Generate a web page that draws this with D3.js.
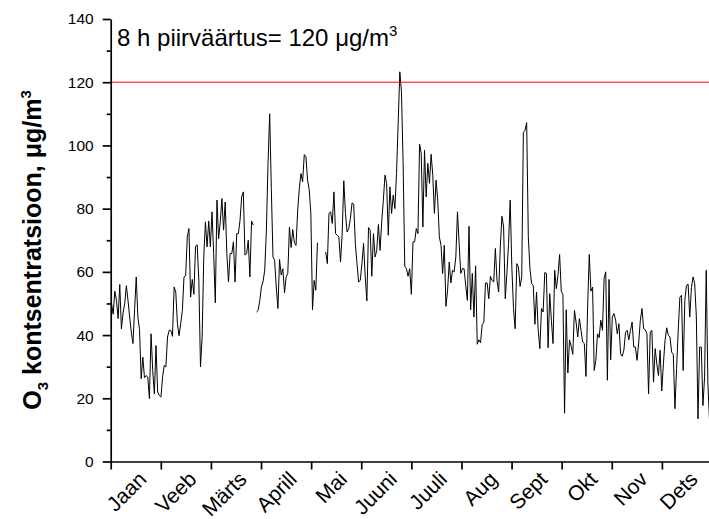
<!DOCTYPE html>
<html>
<head>
<meta charset="utf-8">
<script src="https://cdn.jsdelivr.net/npm/d3@7"></script>
<style>
  html, body { margin: 0; padding: 0; background: #fff; }
  svg { display: block; }
  text { font-family: Arial, "Liberation Sans", sans-serif; }
</style>
</head>
<body>
<svg id="chart" width="709" height="519"></svg>
<script>
// ---- data ----
const months = ["Jaan", "Veeb", "Märts", "Aprill", "Mai", "Juuni", "Juuli", "Aug", "Sept", "Okt", "Nov", "Dets"];
const yTicks = [0, 20, 40, 60, 80, 100, 120, 140];
const yMinorTicks = [10, 30, 50, 70, 90, 110, 130];
const limitValue = 120;
const limitText = "8 h piirväärtus= 120 ";

// daily 8 h O3 values (µg/m3), Jan – late Mar
const o3JanMar = [50, 46.6, 53.9, 51, 45.2, 56, 42, 47, 49.9, 55.6, 51, 45.7, 41, 37.3, 48, 58.4, 45.7, 41.7, 26.2, 33,
  26.5, 27.2, 26.7, 19.9, 40.4, 28.8, 21.4, 36.7, 22, 20.9, 20.4, 26.7, 30.4, 29.9, 39.4, 41.5, 41.5, 39.6, 55.2, 53.6,
  43.6, 39.8, 43.6, 47.8, 58.4, 58.8, 71.1, 73.7, 52, 57.6, 52.9, 68.1, 68.6, 57.3, 29.9, 39.4, 64.7, 75.8, 67.9, 76.1,
  67.9, 79, 65.8, 50.2, 82.7, 70.5, 75.8, 83.2, 73.2, 82.1, 65.8, 56.8, 65.8, 65.8, 69.5, 56.8, 72.1, 72.1, 76.3, 83.7,
  85.3, 65.3, 65.8, 70, 58.4, 76.1, 74.8];
const gap1 = [null];
// late Mar – early May
const o3AprMay = [47.3, 47.8, 51, 55.2, 57, 60.5, 73.2, 94.3, 110, 86.4, 64.7, 63.7, 55.2, 48.4, 63.9, 59, 61, 53.4, 58.4, 59.5,
  74.2, 67.7, 73.4, 69.2, 68.4, 79.5, 86.4, 91.1, 88.5, 97.1, 96.4, 89, 86, 78.5, 48, 57.3, 54.2, 69.2];
const gap2 = [null, null, null, null];
// mid May – end of year
const o3MayDec = [66.3, 62.6, 78.5, 79, 75.3, 85.3, 72.1, 71.6, 71.1, 63.1, 72.1, 88.8, 78.5, 72.6, 73.7, 76.9, 81.8, 81.4, 69, 62.6,
  56.8, 57.3, 62.6, 69, 58.4, 50.8, 74, 73.2, 58.6, 72.1, 64.7, 66.8, 75, 66.8, 75.8, 82.7, 90.6, 88, 71.6, 86.9,
  78.5, 84.3, 80, 91.1, 107, 123.3, 117, 94.3, 61.8, 61, 58.6, 61, 52.9, 69.5, 69.5, 73.7, 72.1, 100.4, 97.5, 74.2,
  98.5, 83.7, 94.3, 88, 97.2, 90.6, 78.5, 89, 82.7, 71.1, 68.4, 59.5, 68.4, 49.1, 54.2, 63.1,
  56.5, 60.5, 60, 64.7, 79, 69, 59.5, 61, 61, 55.7, 51, 74.4, 48, 59.5, 45.7, 61.9, 37.1, 38.5, 37.6, 43.3,
  44.1, 56.5, 56.5, 51.5, 58.6, 57.3, 56.8, 67.4, 57.3, 53.6, 67.9, 77.6, 74.2, 51.5, 59.5, 69, 82.7, 61.5, 48.4, 42,
  62.6, 61.5, 55.4, 58.4, 104.1, 104.8, 107.2, 71.1, 61, 56.3, 55.7, 43.4, 53.6, 41.5, 35.7, 48.4, 47.3, 59.8, 59.5, 36,
  53.1, 44.7, 37.3, 60.5, 54.7, 58.9, 65.5, 53.9, 52.8, 15.3, 48, 28, 38.5, 36.5, 33.9, 47.8, 44.1, 39.4, 45.2, 41.5,
  37.8, 37.3, 26.9, 48.9, 65.5, 53.9, 55.2, 28.8, 32, 40.4, 39.2, 44.7, 41.5, 57.9, 60, 25.7, 57.6, 32.2, 45.7, 46.8,
  44.7, 40.4, 43.6, 34.1, 33.3,
  35.2, 40.8, 41.5, 38.5, 41.5, 44.1, 36.2, 36.2, 32, 37.5, 44.7, 48.4, 42, 41.7, 40.4, 21.4, 41, 41.5, 25.1, 35.7,
  30.9, 27.2, 35.2, 22.3, 30.9, 38.3, 42.3, 39.9, 39.4, 34.6, 33.9, 16.7, 29.4, 41.5, 52, 52.6, 28.8, 51, 55.7, 56.1,
  45.7, 55, 58.4, 56.3, 45.7, 13.5, 36.2, 36.2, 17.7, 26.7, 60.5, 24.6, 13, 16.2];

const o3 = [].concat(o3JanMar, gap1, o3AprMay, gap2, o3MayDec);
const daysInYear = 365;

// ---- chart ----
const W = 709, H = 519;
const svg = d3.select("#chart");

const x = d3.scaleLinear().domain([0, daysInYear]).range([110.7, 712]);
const y = d3.scaleLinear().domain([0, 140]).range([461.5, 19]);

const monthStarts = months.map((m, i) => i * daysInYear / 12);

// data line
const pts = o3.map((v, i) => ({ i, v }));
const line = d3.line()
  .defined(d => d.v != null)
  .x(d => x(d.i + 0.5))
  .y(d => y(d.v));

svg.append("path")
  .datum(pts)
  .attr("fill", "none")
  .attr("stroke", "#000")
  .attr("stroke-width", 1)
  .attr("stroke-linejoin", "miter")
  .attr("d", line);

// limit line
svg.append("line")
  .attr("x1", x(0)).attr("x2", W)
  .attr("y1", y(limitValue)).attr("y2", y(limitValue))
  .attr("stroke", "#ff0000")
  .attr("stroke-width", 1);

// y axis
const yAxis = svg.append("g")
  .attr("transform", `translate(${x(0)},0)`)
  .call(d3.axisLeft(y).tickValues(yTicks).tickSize(8).tickPadding(9).tickSizeOuter(0));
yAxis.selectAll("text").attr("font-size", 15.5).attr("fill", "#000").attr("font-family", "Arial, 'Liberation Sans', sans-serif");

const yMinor = svg.append("g")
  .attr("transform", `translate(${x(0)},0)`)
  .call(d3.axisLeft(y).tickValues(yMinorTicks).tickSize(4).tickFormat("").tickSizeOuter(0));
yMinor.select(".domain").remove();

// x axis
const xAxis = svg.append("g")
  .attr("transform", `translate(0,${y(0)})`)
  .call(d3.axisBottom(x).tickValues(monthStarts).tickSize(8).tickFormat("").tickSizeOuter(0));

[yAxis, yMinor, xAxis].forEach(g => {
  g.selectAll("line").attr("stroke", "#000").attr("stroke-width", 1.7);
  g.selectAll(".domain").attr("stroke", "#000").attr("stroke-width", 1.7);
});

// month labels (rotated)
svg.append("g").selectAll("text")
  .data(months)
  .join("text")
  .attr("text-anchor", "end")
  .attr("font-size", 21)
  .attr("fill", "#000")
  .attr("transform", (d, i) => `translate(${x((i + 0.5) * daysInYear / 12) + 12},480.5) rotate(-45)`)
  .text(d => d);

// limit annotation
const ann = svg.append("text")
  .attr("x", 117).attr("y", 46)
  .attr("font-size", 24)
  .attr("fill", "#000");
ann.append("tspan").text(limitText);
ann.append("tspan").text("μ");
ann.append("tspan").text("g/m");
ann.append("tspan").attr("font-size", 15).attr("dy", -10).text("3");

// y axis title
const yt = svg.append("text")
  .attr("transform", "translate(41,250) rotate(-90)")
  .attr("text-anchor", "middle")
  .attr("font-size", 25)
  .attr("font-weight", "bold")
  .attr("fill", "#000");
yt.append("tspan").text("O");
yt.append("tspan").attr("font-size", 15).attr("dy", 7).text("3");
yt.append("tspan").attr("dy", -7).text(" kontsentratsioon, μg/m");
yt.append("tspan").attr("font-size", 15).attr("dy", -10).text("3");
</script>
</body>
</html>
